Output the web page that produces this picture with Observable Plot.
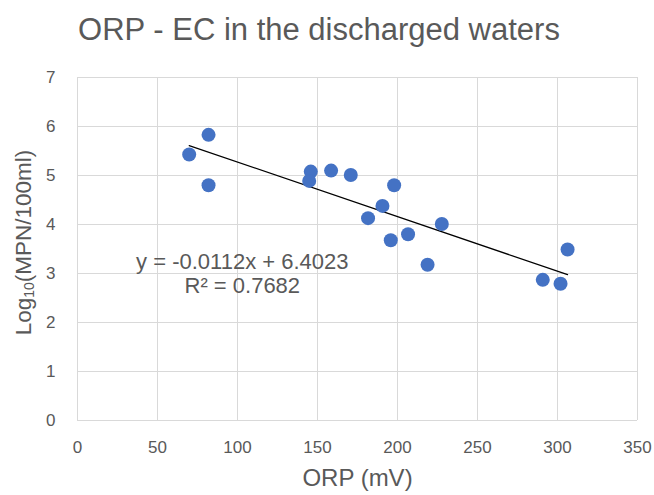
<!DOCTYPE html>
<html><head><meta charset="utf-8">
<script src="https://cdn.jsdelivr.net/npm/d3@7"></script>
<script src="https://cdn.jsdelivr.net/npm/@observablehq/plot@0.6"></script>
<style>
body{margin:0;background:#fff;font-family:"Liberation Sans",Arial,sans-serif;}
#title{height:60px;width:638px;padding-right:16px;text-align:center;font-size:31px;color:#595959;line-height:60px;white-space:nowrap;}
#chart svg{display:block;}
</style></head><body>
<div id="title">ORP - EC in the discharged waters</div>
<div id="chart"></div>
<script>
const orp = [69.8, 81.9, 81.9, 145.8, 144.8, 158.5, 170.8, 197.9, 190.6, 181.6, 195.8, 206.6, 227.7, 218.8, 290.8, 301.9, 306.3];
const logMPN = [5.43, 5.83, 4.80, 5.08, 4.89, 5.10, 5.01, 4.80, 4.38, 4.13, 3.68, 3.80, 4.01, 3.18, 2.87, 2.79, 3.49];
const xTicks = [0, 50, 100, 150, 200, 250, 300, 350];
const yTicks = [0, 1, 2, 3, 4, 5, 6, 7];
const equationLines = ["y = -0.0112x + 6.4023", "R² = 0.7682"];
const equationX = [103, 103];
const equationY = [3.24, 2.74];
const xLabel = "ORP (mV)";

const data = orp.map((x, i) => ({x, y: logMPN[i]}));
const eq = equationLines.map((t, i) => ({t, x: equationX[i], y: equationY[i]}));
const gray = "#595959";

const chart = Plot.plot({
  width: 654, height: 435,
  marginTop: 17, marginBottom: 75, marginLeft: 77, marginRight: 17,
  x: {domain: [0, 350]},
  y: {domain: [0, 7]},
  style: {fontFamily: "'Liberation Sans', Arial, sans-serif", fontSize: "17px", color: gray, background: "white"},
  marks: [
    Plot.gridX(xTicks, {stroke: "#d9d9d9", strokeOpacity: 1, strokeWidth: 1}),
    Plot.gridY(yTicks, {stroke: "#d9d9d9", strokeOpacity: 1, strokeWidth: 1}),
    Plot.axisX(xTicks, {tickSize: 0, tickPadding: 20, label: null, fontSize: 17, fill: gray}),
    Plot.axisY(yTicks, {tickSize: 0, tickPadding: 22, label: null, fontSize: 17, fill: gray}),
    Plot.linearRegressionY(data, {x: "x", y: "y", stroke: "black", strokeWidth: 1.2, ci: 0}),
    Plot.dot(data, {x: "x", y: "y", r: 7, fill: "#4472C4", stroke: "none"}),
    Plot.text(eq, {x: "x", y: "y", text: "t", fontSize: 22, fill: gray, textAnchor: "middle"}),
    Plot.text([xLabel], {frameAnchor: "bottom", dy: 65, fontSize: 24, fill: gray})
  ]
});
document.getElementById("chart").appendChild(chart);

const svg = d3.select(chart);
const ylab = svg.append("text")
  .attr("transform", `translate(25,${17 + (435 - 17 - 75) / 2 - 6}) rotate(-90)`)
  .attr("text-anchor", "middle")
  .attr("dominant-baseline", "middle")
  .attr("fill", gray)
  .attr("font-size", 22.5)
  .attr("font-family", "'Liberation Sans', Arial, sans-serif");
ylab.append("tspan").text("Log");
ylab.append("tspan").attr("font-size", 14).attr("dy", 5).text("10");
ylab.append("tspan").attr("dy", -5).text("(MPN/100ml)");
</script>
</body></html>
